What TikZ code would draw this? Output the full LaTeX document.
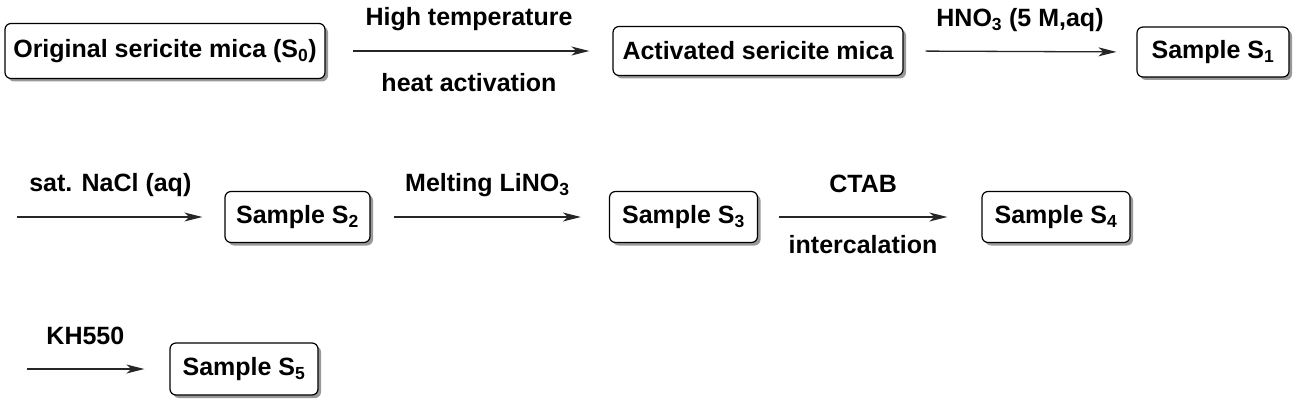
\documentclass[tikz,border=0pt]{standalone}
\usepackage{fontspec}
\setmainfont{Liberation Sans}
\usetikzlibrary{arrows.meta,shadows}

\begin{document}
\begin{tikzpicture}[x=1pt,y=-1pt,
  every node/.style={font=\fontsize{25pt}{30pt}\selectfont\bfseries},
  box/.style={draw=black,line width=1.2pt,rounded corners=6pt,fill=white,
    minimum width=148pt,minimum height=51pt,inner sep=0pt,
    drop shadow={shadow xshift=3pt,shadow yshift=-3pt,fill=black!40,opacity=1}},
  flow/.style={line width=1.3pt,draw=black!85,-{Stealth[length=18pt,width=9pt,inset=5pt]}},
  lbl/.style={anchor=base,inner sep=0pt}]
\useasboundingbox (0,0) rectangle (1300,406);
% row 1
\node[box,minimum width=320pt,minimum height=55pt] (s0) at (165,51) {Original sericite mica (S\textsubscript{0})};
\node[box,minimum width=290pt,minimum height=49pt] (act) at (758,51) {Activated sericite mica};
\node[box,minimum width=152pt,minimum height=50pt] (s1) at (1213,52) {Sample S\textsubscript{1}};
% row 2
\coordinate (in2) at (17,217);
\node[box,minimum width=145pt] (s2) at (297.5,217) {Sample S\textsubscript{2}};
\node[box] (s3) at (683.5,217) {Sample S\textsubscript{3}};
\node[box] (s4) at (1056,217) {Sample S\textsubscript{4}};
% row 3
\coordinate (in3) at (27,369);
\node[box,minimum height=52pt] (s5) at (244,369) {Sample S\textsubscript{5}};
% arrows
\draw[flow,shorten <=27pt,shorten >=23pt] (s0.east) -- node[lbl,yshift=25pt]{High temperature} node[lbl,yshift=-41pt]{heat activation} (act.west);
\draw[flow,shorten <=22pt,shorten >=20pt] (act.east) -- node[lbl,yshift=25pt]{HNO\textsubscript{3} (5 M,aq)} (s1.west);
\draw[flow,shorten >=22pt] (in2) -- node[lbl,pos=.45,yshift=25pt]{sat. NaCl (aq)} (s2.west);
\draw[flow,shorten <=23pt,shorten >=28pt] (s2.east) -- node[lbl,pos=.49,yshift=25pt]{Melting LiNO\textsubscript{3}} (s3.west);
\draw[flow,shorten <=21pt,shorten >=34pt] (s3.east) -- node[lbl,pos=.47,yshift=24pt]{CTAB} node[lbl,pos=.47,yshift=-36pt]{intercalation} (s4.west);
\draw[flow,shorten >=25pt] (in3) -- node[lbl,pos=.41,yshift=25pt]{KH550} (s5.west);
\end{tikzpicture}
\end{document}
